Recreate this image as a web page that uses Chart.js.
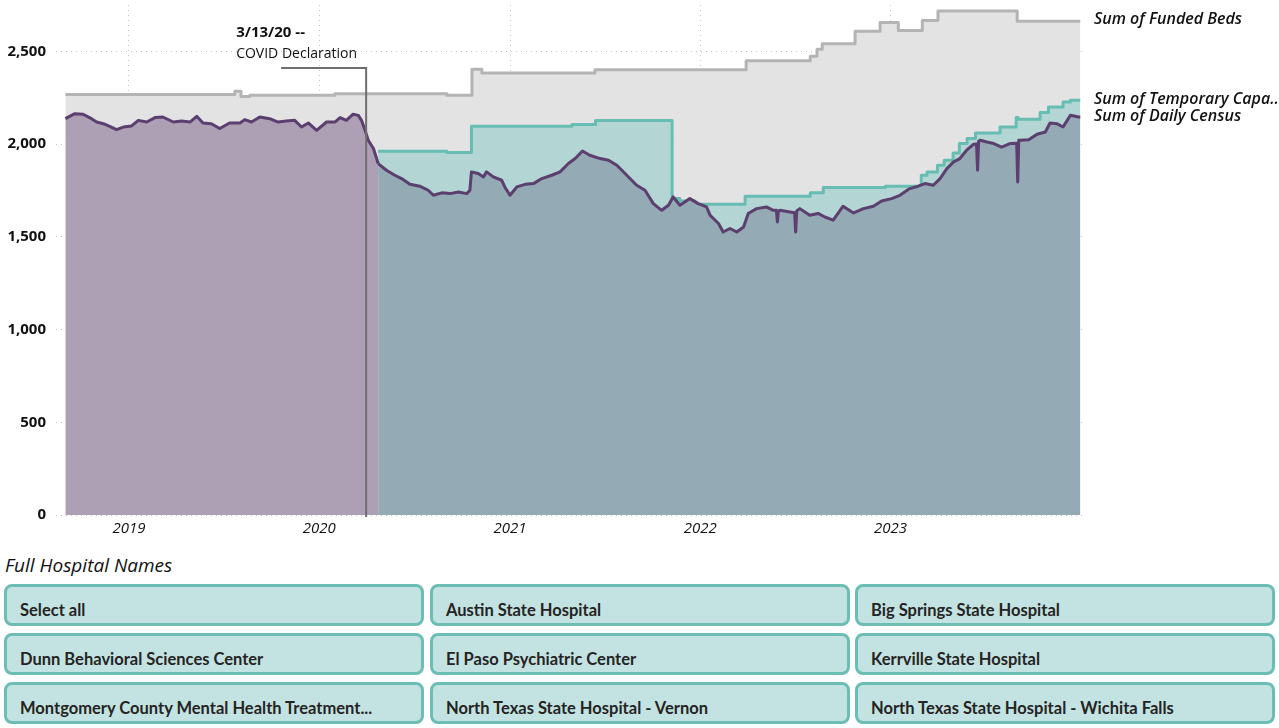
<!DOCTYPE html>
<html>
<head>
<meta charset="utf-8">
<script src="https://cdn.jsdelivr.net/npm/chart.js@4.4.0/dist/chart.umd.min.js"></script>
<style>
  body { margin: 0; background: #fff; font-family: "Open Sans", sans-serif; }
  #wrap { position: relative; width: 1279px; height: 728px; overflow: hidden; }
  #chart { position: absolute; left: 0; top: 0; }
  #title { position: absolute; left: 5px; top: 552px; font-style: italic; font-size: 19px; color: #111; }
  .btn { position: absolute; box-sizing: border-box; height: 42px; width: 420px; border: 3px solid #6cbdb3;
         border-radius: 8px; background: #c3e3e2; font-family: Lato, sans-serif; font-weight: bold; font-size: 16.5px;
         color: #252423; padding: 13px 0 0 13px; white-space: nowrap; }
</style>
</head>
<body>
<div id="wrap">
  <canvas id="chart" width="1279" height="545"></canvas>
  <div id="title">Full Hospital Names</div>
  <div id="slicer"></div>
</div>
<script>
const t = s => Date.parse(s + 'T00:00:00Z');

// axis
const xMin = '2018-08-14';
const xMax = '2024-01-11';
const yearTicks = [2019, 2020, 2021, 2022, 2023];
const yTicks = [0, 500, 1000, 1500, 2000, 2500];
const yMax = 2750;

const covidDate = '2020-03-31';
const covidLabel = ['3/13/20 --', 'COVID Declaration'];

// Sum of Funded Beds (step changes)
const fundedDates = ['2018-09-01', '2019-07-23', '2019-08-04', '2019-08-21', '2020-01-31', '2020-09-02',
  '2020-10-20', '2020-11-08', '2021-06-13', '2022-03-30', '2022-07-31', '2022-08-13', '2022-08-23',
  '2022-10-25', '2022-12-12', '2023-01-16', '2023-03-03', '2023-04-02', '2023-09-01', '2023-12-31'];
const fundedValues = [2268, 2285, 2257, 2263, 2272, 2263,
  2403, 2383, 2401, 2450, 2473, 2511, 2541,
  2608, 2656, 2613, 2667, 2717, 2662, 2662];

// Sum of Temporary Capacity (step changes)
const tempDates = ['2020-04-23', '2020-09-02', '2020-10-19', '2021-04-30', '2021-06-14', '2021-11-08',
  '2021-11-23', '2021-12-22', '2022-03-28', '2022-07-31', '2022-08-25', '2022-12-22', '2023-03-01',
  '2023-03-12', '2023-04-01', '2023-04-14', '2023-05-01', '2023-05-13', '2023-05-28', '2023-06-13',
  '2023-07-30', '2023-08-30', '2023-09-03', '2023-10-15', '2023-10-31', '2023-11-28', '2023-12-12', '2023-12-31'];
const tempValues = [1961, 1954, 2096, 2105, 2127, 1706,
  1693, 1676, 1719, 1737, 1766, 1773, 1832,
  1850, 1886, 1913, 1952, 2003, 2030, 2060,
  2092, 2143, 2134, 2170, 2200, 2227, 2236, 2236];

// Sum of Daily Census
const censusDates = ['2018-09-01', '2018-09-19', '2018-10-05', '2018-10-21', '2018-10-31', '2018-11-13',
  '2018-11-25', '2018-12-08', '2018-12-21', '2019-01-06', '2019-01-19', '2019-02-04', '2019-02-20',
  '2019-03-07', '2019-03-27', '2019-04-12', '2019-04-28', '2019-05-11', '2019-05-23', '2019-06-08',
  '2019-06-24', '2019-07-13', '2019-08-02', '2019-08-11', '2019-08-24', '2019-09-09', '2019-09-28',
  '2019-10-14', '2019-10-30', '2019-11-15', '2019-11-28', '2019-12-11', '2019-12-27', '2020-01-15',
  '2020-01-31', '2020-02-10', '2020-02-22', '2020-03-06', '2020-03-16', '2020-03-22', '2020-03-29',
  '2020-04-04', '2020-04-14', '2020-04-23', '2020-05-09', '2020-05-25', '2020-06-07', '2020-06-23',
  '2020-07-12', '2020-07-28', '2020-08-07', '2020-08-23', '2020-09-08', '2020-09-24', '2020-10-10',
  '2020-10-16', '2020-10-19', '2020-11-01', '2020-11-11', '2020-11-17', '2020-11-30', '2020-12-16',
  '2020-12-22', '2021-01-01', '2021-01-14', '2021-01-30', '2021-02-15', '2021-03-03', '2021-03-22',
  '2021-04-07', '2021-04-23', '2021-05-06', '2021-05-20', '2021-06-03', '2021-06-23', '2021-07-09',
  '2021-07-25', '2021-08-13', '2021-09-01', '2021-09-17', '2021-10-03', '2021-10-19', '2021-11-01',
  '2021-11-10', '2021-11-23', '2021-12-12', '2021-12-28', '2022-01-13', '2022-01-20', '2022-02-05',
  '2022-02-14', '2022-02-27', '2022-03-12', '2022-03-25', '2022-04-03', '2022-04-19', '2022-05-08',
  '2022-05-21', '2022-05-27', '2022-05-29', '2022-05-31', '2022-06-03', '2022-06-22', '2022-07-01',
  '2022-07-03', '2022-07-05', '2022-07-11', '2022-07-30', '2022-08-15', '2022-08-28', '2022-09-13',
  '2022-10-02', '2022-10-22', '2022-11-10', '2022-11-29', '2022-12-15', '2023-01-03', '2023-01-19',
  '2023-02-07', '2023-02-23', '2023-03-08', '2023-03-24', '2023-04-06', '2023-04-19', '2023-05-02',
  '2023-05-14', '2023-05-27', '2023-06-09', '2023-06-15', '2023-06-17', '2023-06-19', '2023-06-22',
  '2023-07-05', '2023-07-18', '2023-08-02', '2023-08-18', '2023-08-31', '2023-09-02', '2023-09-04',
  '2023-09-07', '2023-09-23', '2023-10-09', '2023-10-25', '2023-11-03', '2023-11-16', '2023-11-28',
  '2023-12-12', '2023-12-28', '2023-12-31'];
const censusValues = [2137, 2164, 2161, 2137, 2119, 2110,
  2096, 2078, 2092, 2098, 2128, 2119, 2143,
  2146, 2119, 2124, 2119, 2150, 2114, 2110,
  2084, 2114, 2114, 2132, 2119, 2146, 2137,
  2119, 2124, 2128, 2092, 2114, 2074, 2119,
  2119, 2143, 2128, 2161, 2155, 2128, 2074,
  2021, 1976, 1895, 1859, 1832, 1814, 1783,
  1773, 1751, 1724, 1737, 1733, 1742, 1733,
  1751, 1850, 1841, 1823, 1850, 1823, 1805,
  1769, 1724, 1769, 1783, 1787, 1814, 1832,
  1850, 1895, 1922, 1963, 1940, 1922, 1913,
  1886, 1832, 1778, 1751, 1679, 1643, 1670,
  1715, 1670, 1706, 1679, 1661, 1616, 1572,
  1526, 1545, 1526, 1553, 1626, 1652, 1661,
  1643, 1643, 1580, 1640, 1643, 1634, 1630,
  1526, 1640, 1652, 1616, 1626, 1607, 1590,
  1665, 1629, 1652, 1665, 1693, 1706, 1724,
  1760, 1773, 1787, 1778, 1814, 1868, 1904,
  1922, 1967, 1999, 2000, 1859, 2015, 2021,
  2011, 2003, 1984, 2003, 2005, 1796, 2021,
  2021, 2024, 2053, 2065, 2114, 2110, 2092,
  2155, 2146, 2146];

const seriesNames = ['Sum of Daily Census', 'Sum of Temporary Capa..', 'Sum of Funded Beds'];

const hospitals = ['Select all', 'Austin State Hospital', 'Big Springs State Hospital',
  'Dunn Behavioral Sciences Center', 'El Paso Psychiatric Center', 'Kerrville State Hospital',
  'Montgomery County Mental Health Treatment...', 'North Texas State Hospital - Vernon',
  'North Texas State Hospital - Wichita Falls'];

const pts = (dates, vals) => dates.map((d, i) => ({ x: t(d), y: vals[i] }));
const tempStart = t(tempDates[0]);

const endLabels = {
  id: 'endLabels',
  afterDatasetsDraw(chart) {
    const ctx = chart.ctx;
    const area = chart.chartArea;
    // covid marker
    const x = chart.scales.x.getPixelForValue(t(covidDate));
    const yTop = area.top + 63;
    ctx.save();
    ctx.strokeStyle = '#6e6e6e';
    ctx.lineWidth = 2;
    ctx.beginPath();
    ctx.moveTo(x - 85, yTop);
    ctx.lineTo(x, yTop);
    ctx.lineTo(x, area.bottom + 2);
    ctx.stroke();
    ctx.fillStyle = '#111';
    ctx.textBaseline = 'middle';
    ctx.textAlign = 'left';
    ctx.font = 'bold 15px "Open Sans"';
    ctx.fillText(covidLabel[0], x - 130, yTop - 35);
    ctx.font = '14px "Open Sans"';
    ctx.fillText(covidLabel[1], x - 130, yTop - 14);

    // series labels at the right end
    ctx.font = 'italic 600 16px "Open Sans"';
    const offs = [-1, -1, -2];
    chart.data.datasets.forEach((ds, i) => {
      const meta = chart.getDatasetMeta(i);
      const last = meta.data[meta.data.length - 1];
      ctx.fillText(seriesNames[i], area.right + 8, last.y + offs[i]);
    });
    ctx.restore();
  }
};

new Chart(document.getElementById('chart'), {
  type: 'line',
  data: {
    datasets: [
      {
        data: pts(censusDates, censusValues),
        borderColor: '#5b3f6e',
        borderWidth: 3,
        fill: 'origin',
        backgroundColor: '#94aab4',
        segment: {
          backgroundColor: c => c.p0.parsed.x < tempStart ? '#aea0b4' : '#94aab4'
        }
      },
      {
        data: pts(tempDates, tempValues),
        borderColor: '#68bdb3',
        borderWidth: 3,
        stepped: true,
        fill: 'origin',
        backgroundColor: '#b3d5d4'
      },
      {
        data: pts(fundedDates, fundedValues),
        borderColor: '#b4b4b4',
        borderWidth: 3,
        stepped: true,
        fill: 'origin',
        backgroundColor: '#e3e3e3'
      }
    ]
  },
  options: {
    responsive: false,
    animation: false,
    layout: { padding: { top: 5, right: 193, left: 0, bottom: 0 } },
    elements: { point: { radius: 0 }, line: { tension: 0, borderJoinStyle: 'round' } },
    plugins: { legend: { display: false }, tooltip: { enabled: false } },
    scales: {
      x: {
        type: 'linear',
        min: t(xMin),
        max: t(xMax),
        afterBuildTicks: a => { a.ticks = yearTicks.map(y => ({ value: t(y + '-01-01') })); },
        afterFit: a => { a.height = 30; a.paddingLeft = 0; a.paddingRight = 0; },
        ticks: {
          autoSkip: false, maxRotation: 0, padding: 5, color: '#111',
          font: { family: '"Open Sans"', size: 15, style: 'italic', weight: 500 },
          callback: v => new Date(v).getUTCFullYear()
        },
        grid: { color: '#c8c8c8', lineWidth: 1, drawTicks: false },
        border: { display: false, dash: [1, 4] }
      },
      y: {
        min: 0,
        max: yMax,
        afterBuildTicks: a => { a.ticks = yTicks.map(v => ({ value: v })); },
        afterFit: a => { a.width = 56; a.paddingTop = 0; a.paddingBottom = 0; },
        ticks: {
          padding: 10, color: '#111',
          font: { family: '"Open Sans"', size: 15, weight: 'bold' },
          callback: v => v.toLocaleString('en-US')
        },
        grid: { color: '#c8c8c8', lineWidth: 1, drawTicks: false },
        border: { display: false, dash: [1, 4] }
      }
    }
  },
  plugins: [endLabels]
});

// slicer buttons
const slicer = document.getElementById('slicer');
const colX = [4, 430, 855];
const rowY = [584, 633, 682];
hospitals.forEach((name, i) => {
  const b = document.createElement('div');
  b.className = 'btn';
  b.style.left = colX[i % 3] + 'px';
  b.style.top = rowY[Math.floor(i / 3)] + 'px';
  b.textContent = name;
  slicer.appendChild(b);
});
</script>
</body>
</html>
